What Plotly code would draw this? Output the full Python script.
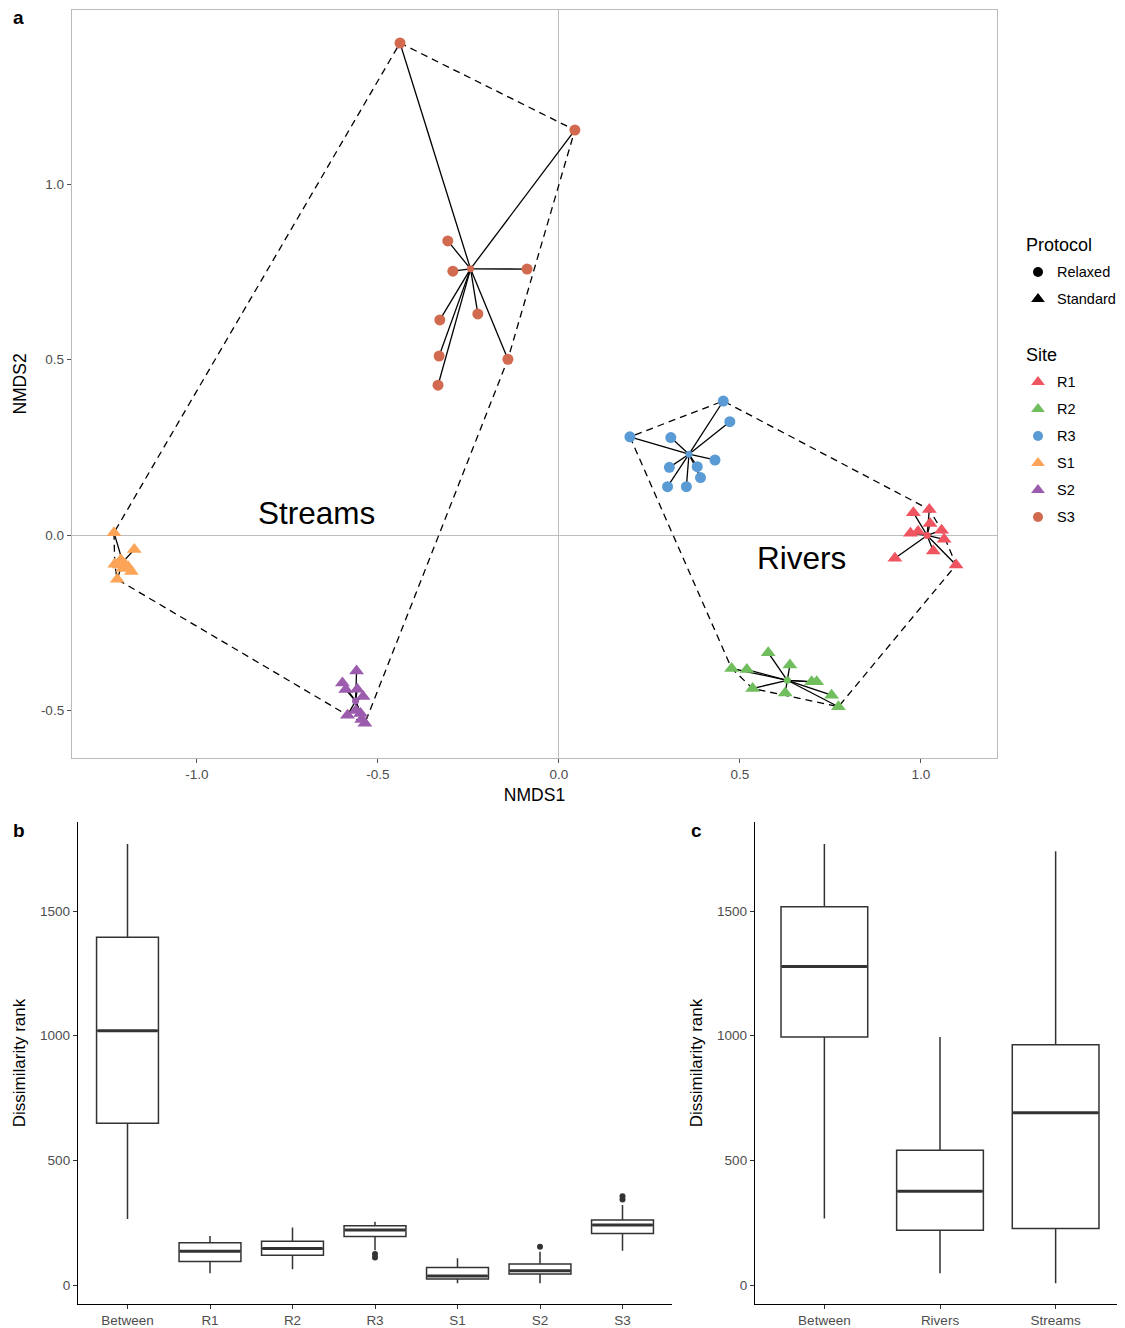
import plotly.graph_objects as go

# ---------------- Panel a data (NMDS scores) ----------------
site_names = ["R1", "R2", "R3", "S1", "S2", "S3"]
site_colors = ["#EF5560", "#70BE5E", "#5B9BD5", "#FCA457", "#9C5CAE", "#D26A50"]
site_protocol = ["Standard", "Standard", "Relaxed", "Standard", "Standard", "Relaxed"]
protocol_names = ["Relaxed", "Standard"]

r1_x = [0.979, 1.023, 1.025, 0.971, 0.992, 1.057, 1.064, 1.034, 0.928, 1.097]
r1_y = [0.064, 0.073, 0.033, 0.005, 0.010, 0.014, -0.012, -0.045, -0.066, -0.085]
r2_x = [0.578, 0.477, 0.519, 0.638, 0.698, 0.712, 0.535, 0.753, 0.772, 0.625]
r2_y = [-0.335, -0.380, -0.383, -0.370, -0.418, -0.418, -0.437, -0.456, -0.489, -0.450]
r3_x = [0.196, 0.454, 0.472, 0.309, 0.431, 0.305, 0.382, 0.391, 0.300, 0.352]
r3_y = [0.280, 0.382, 0.323, 0.278, 0.214, 0.193, 0.195, 0.164, 0.138, 0.138]
s1_x = [-1.229, -1.173, -1.227, -1.199, -1.181, -1.220, -1.215, -1.205, -1.190, -1.210]
s1_y = [0.007, -0.041, -0.083, -0.083, -0.104, -0.126, -0.085, -0.095, -0.090, -0.070]
s2_x = [-0.559, -0.598, -0.589, -0.557, -0.541, -0.584, -0.548, -0.536, -0.561, -0.545]
s2_y = [-0.387, -0.421, -0.440, -0.439, -0.460, -0.513, -0.508, -0.536, -0.500, -0.525]
s3_x = [-0.439, 0.044, -0.307, -0.293, -0.088, -0.329, -0.224, -0.331, -0.141, -0.334]
s3_y = [1.402, 1.154, 0.838, 0.752, 0.758, 0.613, 0.630, 0.510, 0.501, 0.427]

site_x = [r1_x, r2_x, r3_x, s1_x, s2_x, s3_x]
site_y = [r1_y, r2_y, r3_y, s1_y, s2_y, s3_y]

habitat_names = ["Rivers", "Streams"]
habitat_sites = [["R1", "R2", "R3"], ["S1", "S2", "S3"]]
habitat_label_x = [0.669, -0.669]
habitat_label_y = [-0.066, 0.063]

# ---------------- Panel b data (dissimilarity rank by site) ----------------
b_cats = ["Between", "R1", "R2", "R3", "S1", "S2", "S3"]
b_low = [265, 47, 63, 140, 7, 7, 138]
b_q1 = [649, 94, 120, 195, 24, 44, 207]
b_med = [1020, 136, 147, 221, 36, 57, 241]
b_q3 = [1395, 170, 176, 238, 70, 84, 261]
b_high = [1769, 197, 231, 254, 107, 134, 321]
b_out_cat = ["R3", "R3", "S2", "S3", "S3"]
b_out_val = [110, 125, 154, 343, 356]

# ---------------- Panel c data (dissimilarity rank by habitat) ----------------
c_cats = ["Between", "Rivers", "Streams"]
c_low = [267, 47, 7]
c_q1 = [995, 220, 227]
c_med = [1277, 376, 691]
c_q3 = [1517, 541, 964]
c_high = [1769, 995, 1740]

# page body has an 8px margin: the figure starts at (8, 8) of the window
OFF = 8
W, H = 1125 - OFF, 1328 - OFF
FONT = "Liberation Sans, Arial, sans-serif"
TICKGRAY = "#4D4D4D"


def px_x(p):
    return (p - OFF) / W


def px_y(p):
    return 1 - (p - OFF) / H


def hull(xs, ys):
    pts = sorted(set(zip(xs, ys)))

    def cross(o, a, b):
        return (a[0] - o[0]) * (b[1] - o[1]) - (a[1] - o[1]) * (b[0] - o[0])

    lower, upper = [], []
    for p in pts:
        while len(lower) >= 2 and cross(lower[-2], lower[-1], p) <= 0:
            lower.pop()
        lower.append(p)
    for p in reversed(pts):
        while len(upper) >= 2 and cross(upper[-2], upper[-1], p) <= 0:
            upper.pop()
        upper.append(p)
    h = lower[:-1] + upper[:-1]
    h.append(h[0])
    return [p[0] for p in h], [p[1] for p in h]


def sym_of(protocol):
    return "circle" if protocol == "Relaxed" else "triangle-up"


def size_of(sym):
    return 11 if sym == "circle" else 13


fig = go.Figure()

# hulls (dashed)
for hname, hs in zip(habitat_names, habitat_sites):
    xs, ys = [], []
    for s in hs:
        i = site_names.index(s)
        xs += site_x[i]
        ys += site_y[i]
    hx, hy = hull(xs, ys)
    fig.add_trace(go.Scatter(x=hx, y=hy, mode="lines", xaxis="x", yaxis="y",
                             line=dict(color="black", width=1.3, dash="7px,5px"),
                             showlegend=False, hoverinfo="skip"))

# spiders
for i, s in enumerate(site_names):
    cx = sum(site_x[i]) / len(site_x[i])
    cy = sum(site_y[i]) / len(site_y[i])
    lx, ly = [], []
    for x, y in zip(site_x[i], site_y[i]):
        lx += [cx, x, None]
        ly += [cy, y, None]
    fig.add_trace(go.Scatter(x=lx, y=ly, mode="lines", xaxis="x", yaxis="y",
                             line=dict(color="black", width=1.3),
                             showlegend=False, hoverinfo="skip"))

# points
for i, s in enumerate(site_names):
    sym = sym_of(site_protocol[i])
    fig.add_trace(go.Scatter(x=site_x[i], y=site_y[i], mode="markers", xaxis="x", yaxis="y",
                             name=s, showlegend=False,
                             marker=dict(color=site_colors[i], symbol=sym, size=size_of(sym),
                                         line=dict(width=0))))
    cx = sum(site_x[i]) / len(site_x[i])
    cy = sum(site_y[i]) / len(site_y[i])
    fig.add_trace(go.Scatter(x=[cx], y=[cy], mode="markers", xaxis="x", yaxis="y",
                             marker=dict(color=site_colors[i], symbol="circle", size=7),
                             showlegend=False, hoverinfo="skip"))

# habitat labels
for hname, hx, hy in zip(habitat_names, habitat_label_x, habitat_label_y):
    fig.add_annotation(x=hx, y=hy, xref="x", yref="y", text=hname, showarrow=False,
                       font=dict(size=31.5, color="black", family=FONT))

# ---------------- manual legend (own axis, pixel units) ----------------
LEG_MARK_X, LEG_TEXT_X, LEG_TITLE_X = 1038, 1055, 1024
ROW = 27
prot_title_y = 245
site_title_y = 355
leg_rows = []  # (y, symbol, color, label)
for k, p in enumerate(protocol_names):
    leg_rows.append((prot_title_y + ROW * (k + 1), sym_of(p), "black", p))
for k, s in enumerate(site_names):
    leg_rows.append((site_title_y + ROW * (k + 1), sym_of(site_protocol[k]), site_colors[k], s))
for y, sym, col, lab in leg_rows:
    fig.add_trace(go.Scatter(x=[LEG_MARK_X], y=[y], mode="markers", xaxis="x4", yaxis="y4",
                             marker=dict(symbol=sym, color=col, size=size_of(sym) - 1),
                             showlegend=False, hoverinfo="skip"))
    fig.add_annotation(x=LEG_TEXT_X, y=y, xref="x4", yref="y4", text=lab, showarrow=False,
                       xanchor="left", yanchor="middle", font=dict(size=14.5, color="black", family=FONT))
for ttl, y in [("Protocol", prot_title_y), ("Site", site_title_y)]:
    fig.add_annotation(x=LEG_TITLE_X, y=y, xref="x4", yref="y4", text=ttl, showarrow=False,
                       xanchor="left", yanchor="middle", font=dict(size=18, color="black", family=FONT))

BOXLINE = "#333333"


def add_boxes(cats, low, q1, med, q3, high, xa, ya, box_px):
    fig.add_trace(go.Box(x=cats, q1=q1, median=med, q3=q3, lowerfence=low, upperfence=high,
                         xaxis=xa, yaxis=ya, fillcolor="white", line=dict(color=BOXLINE, width=1.5),
                         whiskerwidth=0, width=0.75, boxpoints=False, showlegend=False, hoverinfo="skip"))
    fig.add_trace(go.Scatter(x=cats, y=med, mode="markers", xaxis=xa, yaxis=ya,
                             marker=dict(symbol="line-ew-open", size=box_px / 1.4, color=BOXLINE,
                                         line=dict(color=BOXLINE, width=3)),
                             showlegend=False, hoverinfo="skip"))


add_boxes(b_cats, b_low, b_q1, b_med, b_q3, b_high, "x2", "y2", 60)
fig.add_trace(go.Scatter(x=b_out_cat, y=b_out_val, mode="markers", xaxis="x2", yaxis="y2",
                         marker=dict(color=BOXLINE, size=6), showlegend=False, hoverinfo="skip"))
add_boxes(c_cats, c_low, c_q1, c_med, c_q3, c_high, "x3", "y3", 85)

tickfont = dict(size=13.5, color=TICKGRAY, family=FONT)
titlefont_a = dict(size=17.5, color="black", family=FONT)
titlefont_b = dict(size=17, color="black", family=FONT)

fig.update_layout(
    width=W, height=H,
    margin=dict(l=0, r=0, t=0, b=0),
    paper_bgcolor="white", plot_bgcolor="white",
    font=dict(family=FONT),
    showlegend=False,
    xaxis=dict(domain=[px_x(72), px_x(997)], range=[-1.345, 1.210], anchor="y",
               tickvals=[-1.0, -0.5, 0.0, 0.5, 1.0], ticktext=["-1.0", "-0.5", "0.0", "0.5", "1.0"],
               ticks="outside", ticklen=4, tickcolor="#555555", tickfont=tickfont,
               showgrid=False, zeroline=True, zerolinecolor="#BDBDBD", zerolinewidth=1.2,
               showline=True, mirror=True, linecolor="#BBBBBB", linewidth=1.3,
               title=dict(text="NMDS1", font=titlefont_a, standoff=7)),
    yaxis=dict(domain=[px_y(758), px_y(10)], range=[-0.635, 1.496], anchor="x",
               tickvals=[-0.5, 0.0, 0.5, 1.0], ticktext=["-0.5", "0.0", "0.5", "1.0"],
               ticks="outside", ticklen=4, tickcolor="#555555", tickfont=tickfont,
               showgrid=False, zeroline=True, zerolinecolor="#BDBDBD", zerolinewidth=1.2,
               showline=True, mirror=True, linecolor="#BBBBBB", linewidth=1.3,
               title=dict(text="NMDS2", font=titlefont_a, standoff=9)),
    xaxis2=dict(domain=[px_x(78), px_x(672)], range=[-0.6, 6.6], anchor="y2", type="category",
                categoryorder="array", categoryarray=b_cats,
                ticks="outside", ticklen=4, tickcolor="#333333", tickfont=tickfont,
                showgrid=False, zeroline=False, showline=True, linecolor="black", linewidth=1.3),
    yaxis2=dict(domain=[px_y(1304), px_y(822)], range=[-76, 1857], anchor="x2",
                tickvals=[0, 500, 1000, 1500], ticks="outside", ticklen=4, tickcolor="#333333",
                tickfont=tickfont, showgrid=False, zeroline=False, showline=True,
                linecolor="black", linewidth=1.3,
                title=dict(text="Dissimilarity rank", font=titlefont_b, standoff=10)),
    xaxis3=dict(domain=[px_x(755), 1.0], range=[-0.6, 2.6], anchor="y3", type="category",
                categoryorder="array", categoryarray=c_cats,
                ticks="outside", ticklen=4, tickcolor="#333333", tickfont=tickfont,
                showgrid=False, zeroline=False, showline=True, linecolor="black", linewidth=1.3),
    yaxis3=dict(domain=[px_y(1304), px_y(822)], range=[-76, 1857], anchor="x3",
                tickvals=[0, 500, 1000, 1500], ticks="outside", ticklen=4, tickcolor="#333333",
                tickfont=tickfont, showgrid=False, zeroline=False, showline=True,
                linecolor="black", linewidth=1.3,
                title=dict(text="Dissimilarity rank", font=titlefont_b, standoff=10)),
    xaxis4=dict(domain=[px_x(1010), 1.0], range=[1010, 1125], anchor="y4", visible=False,
                fixedrange=True),
    yaxis4=dict(domain=[px_y(540), px_y(225)], range=[540, 225], anchor="x4", visible=False,
                fixedrange=True),
)

for txt, xp, yp in [("a", 11, 18), ("b", 11, 830), ("c", 689, 830)]:
    fig.add_annotation(x=px_x(xp), y=px_y(yp), xref="paper", yref="paper", text=f"<b>{txt}</b>",
                       showarrow=False, xanchor="left", yanchor="middle",
                       font=dict(size=19, color="black", family=FONT))

fig.write_html("out.html")
